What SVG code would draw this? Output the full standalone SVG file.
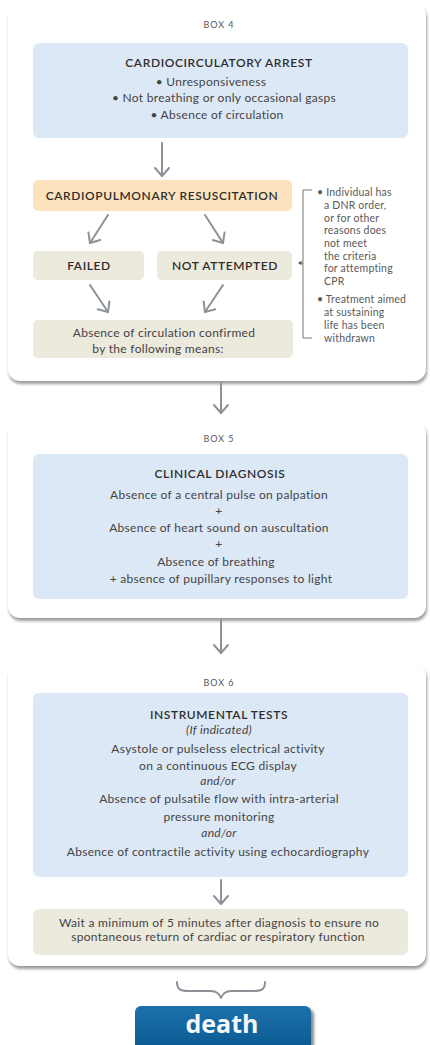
<svg xmlns="http://www.w3.org/2000/svg" width="430" height="1045" viewBox="0 0 430 1045">
<defs>
<style>
text{font-family:Lato,"Open Sans","Liberation Sans",sans-serif;fill:#444;text-anchor:middle}
.lbl{font-size:9px;fill:#555;letter-spacing:1px}
.ttl{font-size:12px;font-weight:600;fill:#2e2e2e;letter-spacing:0.6px}
.b{font-size:12px;letter-spacing:0.3px}
.it{font-style:italic}
.side{font-size:10.5px;text-anchor:start;fill:#5a5a5a;letter-spacing:0.2px}
.panel{fill:#fff}
.shadow{fill:#9c9c9c;filter:url(#blur)}
.blue{fill:#dce8f5}
.beige{fill:#ece9dd}
.orange{fill:#fde3bd}
.conn{stroke:#8d9298;stroke-width:2;fill:none;stroke-linecap:round;stroke-linejoin:round}
.thin{stroke:#777;stroke-width:1;fill:none}
</style>
<filter id="blur" x="-5%" y="-5%" width="110%" height="115%"><feGaussianBlur stdDeviation="1.5"/></filter>
<marker id="ah" viewBox="-10 -9 12 18" refX="0" refY="0" markerWidth="12" markerHeight="18" markerUnits="userSpaceOnUse" orient="auto">
<path d="M-8,-7 L0,0 L-8,7" fill="none" stroke="#8d9298" stroke-width="2" stroke-linecap="round" stroke-linejoin="round"/>
</marker>
<linearGradient id="dg" x1="0" y1="0" x2="0" y2="1">
<stop offset="0" stop-color="#1c72ac"/>
<stop offset="1" stop-color="#0b5890"/>
</linearGradient>
</defs>
<rect width="430" height="1045" fill="#fff"/>

<g id="panel4">
<rect class="shadow" x="9" y="7" width="418" height="377" rx="12"/>
<rect class="panel" x="8" y="4" width="418" height="377" rx="12"/>
<text class="lbl" x="219" y="28">BOX 4</text>
</g>
<g id="arrest">
<rect class="blue" x="33" y="43" width="375" height="95" rx="6"/>
<text class="ttl" x="219" y="67">CARDIOCIRCULATORY ARREST</text>
<text class="b" x="211" y="86">• Unresponsiveness</text>
<text class="b" x="224" y="102">• Not breathing or only occasional gasps</text>
<text class="b" x="217" y="119">• Absence of circulation</text>
</g>
<g id="cpr">
<rect class="orange" x="33" y="180" width="259" height="31" rx="5"/>
<text class="ttl" x="162" y="200">CARDIOPULMONARY RESUSCITATION</text>
</g>
<g id="failed">
<rect class="beige" x="33" y="251" width="111" height="29" rx="5"/>
<text class="ttl" x="89" y="270">FAILED</text>
</g>
<g id="notattempted">
<rect class="beige" x="157" y="251" width="135" height="29" rx="5"/>
<text class="ttl" x="225" y="270">NOT ATTEMPTED</text>
</g>
<g id="confirmed">
<rect class="beige" x="33" y="320" width="260" height="38" rx="5"/>
<text class="b" x="164" y="337">Absence of circulation confirmed</text>
<text class="b" x="158" y="353">by the following means:</text>
</g>
<g id="reasons">
<text class="side" x="317" y="196">• Individual has</text>
<text class="side" x="324" y="209">a DNR order,</text>
<text class="side" x="324" y="222">or for other</text>
<text class="side" x="324" y="234">reasons does</text>
<text class="side" x="324" y="247">not meet</text>
<text class="side" x="324" y="260">the criteria</text>
<text class="side" x="324" y="272">for attempting</text>
<text class="side" x="324" y="285">CPR</text>
<text class="side" x="317" y="303">• Treatment aimed</text>
<text class="side" x="324" y="316">at sustaining</text>
<text class="side" x="324" y="329">life has been</text>
<text class="side" x="324" y="342">withdrawn</text>
</g>

<g id="panel5">
<rect class="shadow" x="9" y="425" width="418" height="196" rx="12"/>
<rect class="panel" x="8" y="422" width="418" height="196" rx="12"/>
<text class="lbl" x="219" y="442">BOX 5</text>
</g>
<g id="clinical">
<rect class="blue" x="33" y="454" width="375" height="145" rx="6"/>
<text class="ttl" x="220" y="478">CLINICAL DIAGNOSIS</text>
<text class="b" x="219" y="499">Absence of a central pulse on palpation</text>
<text class="b" x="219" y="515">+</text>
<text class="b" x="219" y="532">Absence of heart sound on auscultation</text>
<text class="b" x="219" y="548">+</text>
<text class="b" x="216" y="566">Absence of breathing</text>
<text class="b" x="221" y="583">+ absence of pupillary responses to light</text>
</g>

<g id="panel6">
<rect class="shadow" x="9" y="667" width="418" height="302" rx="12"/>
<rect class="panel" x="8" y="664" width="418" height="302" rx="12"/>
<text class="lbl" x="219" y="686">BOX 6</text>
</g>
<g id="instrumental">
<rect class="blue" x="33" y="693" width="375" height="184" rx="6"/>
<text class="ttl" x="219" y="719">INSTRUMENTAL TESTS</text>
<text class="b it" x="219" y="734">(If indicated)</text>
<text class="b" x="218" y="753">Asystole or pulseless electrical activity</text>
<text class="b" x="218" y="770">on a continuous ECG display</text>
<text class="b it" x="218" y="785">and/or</text>
<text class="b" x="219" y="803">Absence of pulsatile flow with intra-arterial</text>
<text class="b" x="219" y="821">pressure monitoring</text>
<text class="b it" x="219" y="837">and/or</text>
<text class="b" x="218" y="856">Absence of contractile activity using echocardiography</text>
</g>
<g id="wait">
<rect class="beige" x="33" y="909" width="375" height="46" rx="6"/>
<text class="b" x="219" y="927">Wait a minimum of 5 minutes after diagnosis to ensure no</text>
<text class="b" x="218" y="941">spontaneous return of cardiac or respiratory function</text>
</g>

<g id="death">
<rect x="138" y="1009" width="176" height="45" rx="6" fill="#8a8a8a" filter="url(#blur)"/>
<rect x="135" y="1006" width="176" height="45" rx="6" fill="url(#dg)"/>
<text x="222" y="1033" style="font-family:'Open Sans','Noto Sans',sans-serif;font-size:25px;font-weight:bold;fill:#f4f8fb">death</text>
</g>

<g id="connectors">
<line class="conn" x1="162" y1="143" x2="162" y2="176" marker-end="url(#ah)"/>
<line class="conn" x1="108" y1="215" x2="90" y2="243" marker-end="url(#ah)"/>
<line class="conn" x1="205" y1="215" x2="223" y2="243" marker-end="url(#ah)"/>
<line class="conn" x1="90" y1="285" x2="108" y2="312" marker-end="url(#ah)"/>
<line class="conn" x1="223" y1="285" x2="205" y2="312" marker-end="url(#ah)"/>
<line class="conn" x1="221" y1="383" x2="221" y2="413" marker-end="url(#ah)"/>
<line class="conn" x1="221" y1="620" x2="221" y2="653" marker-end="url(#ah)"/>
<line class="conn" x1="221" y1="880" x2="221" y2="904" marker-end="url(#ah)"/>
<path class="thin" d="M312,190 H303 V338 H312"/>
<path d="M303,263 H300" class="thin"/>
<path d="M298,263 L301.5,260.8 V265.2 Z" fill="#555"/>
<path class="conn" d="M177,982 C177,989 180,991 188,991 H211 C216,991 219,993 221,998 C223,993 226,991 231,991 H254 C262,991 265,989 265,982"/>
</g>
</svg>
